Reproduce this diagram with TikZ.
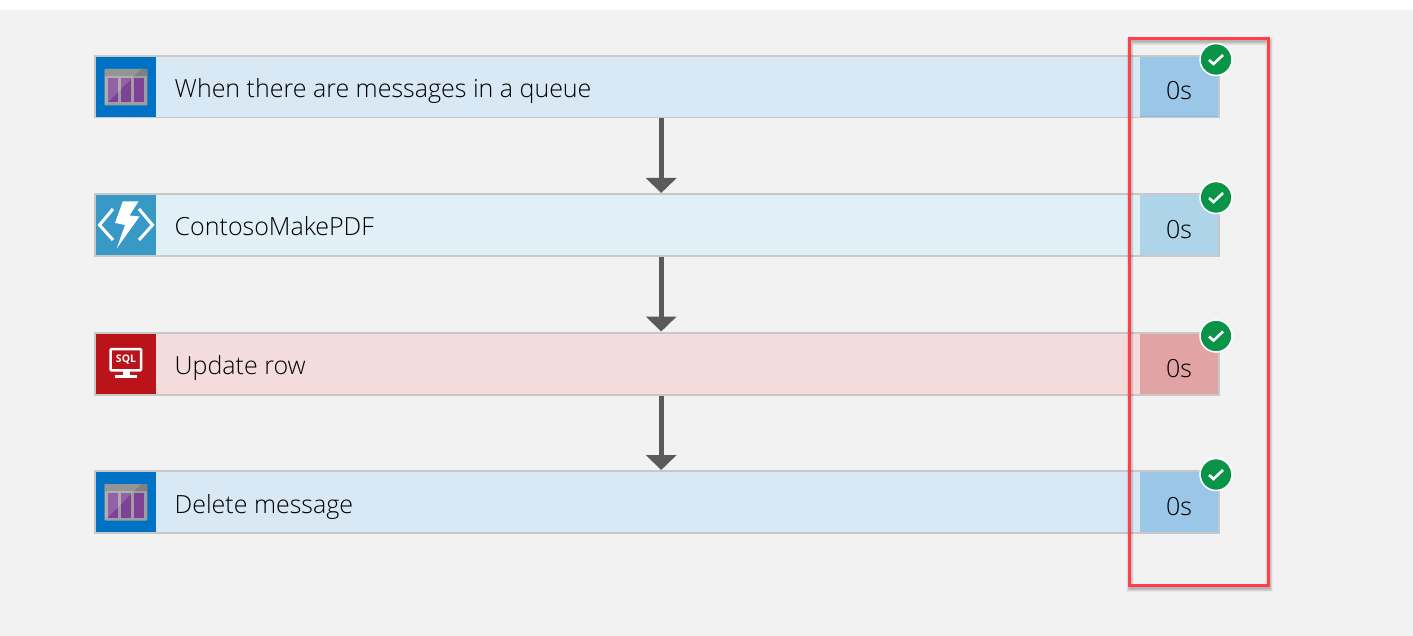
\documentclass[tikz,border=0pt]{standalone}
\usepackage{fontspec}
\setmainfont{Open Sans Light}
\usetikzlibrary{arrows.meta}
\definecolor{pagebg}{HTML}{F2F2F2}
\definecolor{rowborder}{HTML}{C8C8C8}
\definecolor{qlight}{HTML}{D8E8F5}
\definecolor{qdark}{HTML}{9AC6E8}
\definecolor{qline}{HTML}{8FB5D8}
\definecolor{qicon}{HTML}{0072C6}
\definecolor{flight}{HTML}{E1F0F7}
\definecolor{fdark}{HTML}{ADD4E8}
\definecolor{ficon}{HTML}{3999C6}
\definecolor{slight}{HTML}{F5DCDC}
\definecolor{sdark}{HTML}{E2A3A5}
\definecolor{sicon}{HTML}{BA141A}
\definecolor{okgreen}{HTML}{0A9448}
\definecolor{flowgray}{HTML}{5A5A5A}
\definecolor{redbox}{HTML}{FF4045}
\definecolor{qpurple}{HTML}{7D4296}
\tikzset{
  rowbox/.style={fill=rowborder,anchor=north west,inner sep=0pt,minimum width=1126pt,minimum height=64pt},
  bodypart/.style={anchor=north west,inner sep=0pt,minimum width=984pt,minimum height=60pt},
  iconpart/.style={anchor=north west,inner sep=0pt,minimum width=60pt,minimum height=60pt},
  timepart/.style={anchor=north west,inner sep=0pt,minimum width=78pt,minimum height=60pt},
  rowlabel/.style={anchor=base west,inner sep=0pt,text=black,font=\fontsize{25}{29}\selectfont},
  timelabel/.style={anchor=base,inner sep=0pt,text=black,font=\fontsize{25}{29}\selectfont},
  okbadge/.style={circle,fill=okgreen,draw=white,line width=1.5pt,minimum size=32pt,inner sep=0pt},
  flow/.style={draw=flowgray,line width=5.3pt,-{Triangle[width=30pt,length=15pt]}},
}
\newcommand{\queueglyph}[1]{%
  \begin{scope}[shift={#1}]
    \fill[black!38,rounded corners=1pt] (8.7,12) rectangle (51.3,48.5);
    \fill[black!50] (8.7,12) rectangle (51.3,19);
    \fill[qpurple] (12,21) rectangle (22,45.5);
    \fill[qpurple] (25,21) rectangle (35,45.5);
    \fill[qpurple] (38,21) rectangle (48,45.5);
    \fill[white,opacity=.17] (8.7,48.5) -- (45,12) -- (8.7,12) -- cycle;
  \end{scope}}
\newcommand{\checkglyph}[1]{%
  \draw[white,line width=2.6pt] ([shift={(-7,0.5)}]#1.center) -- ([shift={(-2.5,4.5)}]#1.center) -- ([shift={(7,-4.5)}]#1.center);}
\begin{document}
\begin{tikzpicture}[x=1pt,y=-1pt]
\useasboundingbox (0,0) rectangle (1413,636);
\fill[white] (0,0) rectangle (1413,636);
\fill[pagebg] (0,10) rectangle (1413,636);

% rows
\node[rowbox,minimum height=63pt] (r1) at (94,55) {};
\node[rowbox] (r2) at (94,193) {};
\node[rowbox] (r3) at (94,331.5) {};
\node[rowbox] (r4) at (94,470) {};

\node[iconpart,fill=qicon] (i1) at (96,57) {};
\node[bodypart,fill=qlight] (b1) at (156,57) {};
\node[timepart,fill=qdark] (t1) at (1140,57) {};
\node[iconpart,fill=ficon] (i2) at (96,195) {};
\node[bodypart,fill=flight] (b2) at (156,195) {};
\node[timepart,fill=fdark] (t2) at (1140,195) {};
\node[iconpart,fill=sicon] (i3) at (96,333.5) {};
\node[bodypart,fill=slight] (b3) at (156,333.5) {};
\node[timepart,fill=sdark] (t3) at (1140,333.5) {};
\node[iconpart,fill=qicon] (i4) at (96,472) {};
\node[bodypart,fill=qlight] (b4) at (156,472) {};
\node[timepart,fill=qdark] (t4) at (1140,472) {};
\fill[qline] (1140,116) rectangle (1218,117);

% labels
\node[rowlabel] (l1) at (174.5,97.5) {When there are messages in a queue};
\node[rowlabel] (l2) at (174.5,236) {ContosoMakePDF};
\node[rowlabel] (l3) at (174.5,374) {Update row};
\node[rowlabel] (l4) at (174.5,513) {Delete message};
\node[timelabel] (s1) at (1179,100) {0s};
\node[timelabel] (s2) at (1179,239) {0s};
\node[timelabel] (s3) at (1179,377.5) {0s};
\node[timelabel] (s4) at (1179,515.5) {0s};

% connectors
\draw[flow] ([xshift=4pt]r1.south) -- ([xshift=4pt]r2.north);
\draw[flow] ([xshift=4pt]r2.south) -- ([xshift=4pt]r3.north);
\draw[flow] ([xshift=4pt]r3.south) -- ([xshift=4pt]r4.north);

% icons
\queueglyph{(96,57)}
\queueglyph{(96,472)}
\begin{scope}[shift={(96,195)}]
  \draw[white,line width=3pt] (17,14) -- (3.5,30) -- (17,45);
  \draw[white,line width=3pt] (43,14) -- (56.5,30) -- (43,45);
  \fill[white] (26.7,6.5) -- (42.5,6.5) -- (33.5,20.5) -- (43.5,21.5) -- (20.7,53.5) -- (29,30) -- (19,28) -- cycle;
\end{scope}
\begin{scope}[shift={(96,333)}]
  \draw[white,line width=2.5pt,rounded corners=1pt] (14.6,16) rectangle (45,37.4);
  \fill[white] (26.7,38) rectangle (34,42);
  \fill[white] (19,42) rectangle (41.3,45);
  \node[text=white,inner sep=0pt,font=\fontsize{10.5}{11}\selectfont\fontspec{Open Sans}\bfseries] (sqltext) at (30,26.5) {SQL};
\end{scope}

% red frame with its shadow
\foreach \w/\o in {8/.035,6.5/.045,5/.055,3.5/.065,2/.08}{
  \draw[black,opacity=\o,line width=\w pt] (1130,41.5) rectangle (1269,588);
}
\node[okbadge] (c1) at (1216,59.5) {};
\node[okbadge] (c2) at (1216,197.5) {};
\node[okbadge] (c3) at (1216,336) {};
\node[okbadge] (c4) at (1216,474.5) {};
\checkglyph{c1}\checkglyph{c2}\checkglyph{c3}\checkglyph{c4}
\draw[redbox,line width=3pt] (1129.5,39) rectangle (1268.5,585.5);
\end{tikzpicture}
\end{document}
